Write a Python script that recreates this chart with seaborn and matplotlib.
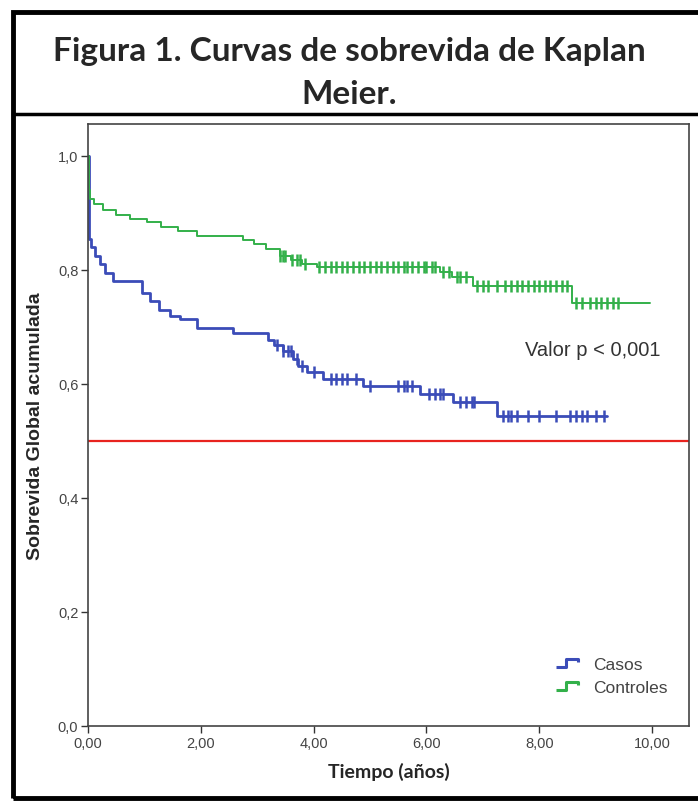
import numpy as np
import pandas as pd
import matplotlib
matplotlib.use("Agg")
import matplotlib.pyplot as plt
from matplotlib.lines import Line2D
from matplotlib.path import Path
from matplotlib.ticker import FuncFormatter
import seaborn as sns

# Kaplan-Meier steps (time in years, survival after the step)
casos_t = [0, 0.01, 0.05, 0.12, 0.21, 0.30, 0.45, 0.95, 1.10, 1.25, 1.45, 1.63, 1.93,
           2.57, 3.20, 3.30, 3.45, 3.63, 3.72, 3.88, 4.17, 4.88, 5.89, 6.47, 7.25, 9.20]
casos_s = [1.0, 0.855, 0.84, 0.825, 0.81, 0.795, 0.78, 0.76, 0.745, 0.73, 0.72, 0.714, 0.698,
           0.69, 0.678, 0.668, 0.658, 0.644, 0.632, 0.621, 0.609, 0.596, 0.582, 0.568, 0.544, 0.544]

ctrl_t = [0, 0.01, 0.03, 0.10, 0.27, 0.50, 0.75, 1.05, 1.30, 1.60, 1.93, 2.75, 2.95, 3.15,
          3.40, 3.60, 3.80, 4.06, 6.24, 6.45, 6.83, 8.58, 9.97]
ctrl_s = [1.0, 0.94, 0.925, 0.915, 0.905, 0.897, 0.89, 0.884, 0.876, 0.868, 0.86, 0.852, 0.845,
          0.837, 0.825, 0.818, 0.81, 0.805, 0.797, 0.787, 0.772, 0.742, 0.742]

# censored observations
casos_cens = [3.35, 3.45, 3.55, 3.6, 3.7, 3.8, 4.0, 4.3, 4.4, 4.5, 4.6, 4.75, 5.0, 5.5, 5.6,
              5.65, 5.75, 6.05, 6.15, 6.25, 6.3, 6.6, 6.7, 6.8, 6.85, 7.35, 7.45, 7.5, 7.6,
              7.8, 8.0, 8.3, 8.55, 8.65, 8.75, 8.85, 9.0, 9.15]
ctrl_cens = [3.4, 3.45, 3.5, 3.62, 3.7, 3.75, 3.85, 4.1, 4.2, 4.3, 4.4, 4.5, 4.6, 4.7, 4.8,
             4.9, 5.0, 5.1, 5.2, 5.3, 5.4, 5.5, 5.6, 5.65, 5.75, 5.85, 5.95, 6.0, 6.1, 6.15,
             6.3, 6.4, 6.55, 6.6, 6.7, 6.9, 7.0, 7.1, 7.25, 7.4, 7.5, 7.6, 7.7, 7.8, 7.9, 8.0,
             8.1, 8.2, 8.3, 8.4, 8.5, 8.65, 8.75, 8.9, 9.0, 9.1, 9.2, 9.3, 9.4]

grupos = ["Casos", "Controles"]
colores = ["#3b4cb8", "#33b04a"]
umbral = 0.5
p_texto = "Valor p < 0,001"


def surv_at(times, surv, t):
    idx = np.searchsorted(times, t, side="right") - 1
    return np.asarray(surv)[idx]


curvas = pd.concat([
    pd.DataFrame({"t": casos_t, "s": casos_s, "grupo": "Casos"}),
    pd.DataFrame({"t": ctrl_t, "s": ctrl_s, "grupo": "Controles"}),
])
cens = pd.concat([
    pd.DataFrame({"t": casos_cens, "s": surv_at(casos_t, casos_s, casos_cens), "grupo": "Casos"}),
    pd.DataFrame({"t": ctrl_cens, "s": surv_at(ctrl_t, ctrl_s, ctrl_cens), "grupo": "Controles"}),
])

sns.set_style("white")
plt.rcParams["font.family"] = ["Liberation Sans", "DejaVu Sans"]

W, H = 698, 803
fig = plt.figure(figsize=(W / 100, H / 100), dpi=100)
ax = fig.add_axes([88 / W, 1 - 727 / H, (689 - 88) / W, (727 - 125) / H])

for g, c, lw in zip(grupos, colores, [2.0, 1.4]):
    d = curvas[curvas["grupo"] == g]
    sns.lineplot(data=d, x="t", y="s", drawstyle="steps-post", estimator=None, sort=False,
                 color=c, linewidth=lw, ax=ax)
    dc = cens[cens["grupo"] == g]
    sns.scatterplot(data=dc, x="t", y="s", marker="|", s=70, linewidth=1.8, color=c, ax=ax)

ax.axhline(umbral, color="#e8231f", linewidth=1.6)

ax.set_xlim(0, (689 - 88) / 56.4)
ax.set_ylim(0, (727 - 125) / 570)
ax.set_xticks(np.arange(0, 11, 2))
ax.set_yticks(np.arange(0, 1.01, 0.2))
ax.xaxis.set_major_formatter(FuncFormatter(lambda v, p: f"{v:.2f}".replace(".", ",")))
ax.yaxis.set_major_formatter(FuncFormatter(lambda v, p: f"{v:.1f}".replace(".", ",")))
ax.tick_params(axis="both", direction="out", length=5, width=1, colors="#333333",
               labelsize=10.5, labelcolor="#444444", bottom=True, left=True, pad=2)
for sp in ax.spines.values():
    sp.set_color("#444444")
    sp.set_linewidth(1.2)

ax.set_xlabel("Tiempo (años)", fontsize=14, fontweight="bold", family=["Lato", "DejaVu Sans"],
              labelpad=9)
ax.set_ylabel("Sobrevida Global acumulada", fontsize=14, fontweight="bold", labelpad=10)

ax.text(7.75, 0.661, p_texto, fontsize=14.5, color="#333333", va="center", ha="left")

step_marker = Path([(-1.0, -0.35), (-0.1, -0.35), (-0.1, 0.35), (1.0, 0.35), (1.0, 0.05)])
handles = [Line2D([], [], linestyle="none", marker=step_marker, markersize=16,
                  markeredgewidth=2.2, markerfacecolor="none", color=c) for c in colores]
ax.legend(handles, grupos, loc="lower right", bbox_to_anchor=(0.99, 0.025), frameon=False,
          fontsize=12.5, handletextpad=0.5, labelspacing=0.45, labelcolor="#444444")

# frame and title box
fig.add_artist(plt.Rectangle((13 / W, 1 - 799 / H), (W - 10) / W, (799 - 13) / H,
                             transform=fig.transFigure, fill=False, edgecolor="black",
                             linewidth=3.5))
fig.add_artist(Line2D([13 / W, 1], [1 - 115 / H, 1 - 115 / H], transform=fig.transFigure,
                      color="black", linewidth=2.5))
fig.text(0.5, 1 - 73 / H, "Figura 1. Curvas de sobrevida de Kaplan\nMeier.", ha="center",
         va="center", fontsize=24, fontweight="bold", family=["Lato", "DejaVu Sans"],
         linespacing=1.6)

fig.savefig("out.png", dpi=100)
